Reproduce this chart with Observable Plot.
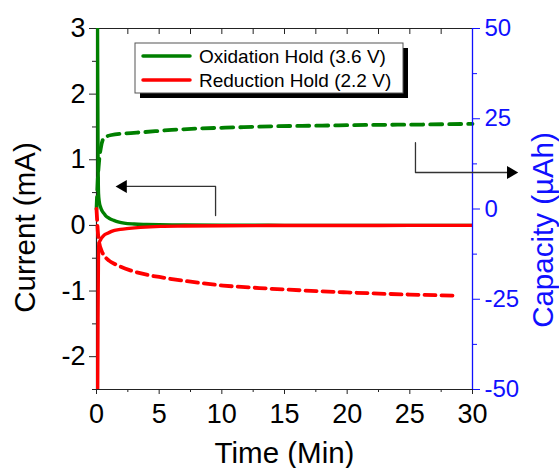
<!DOCTYPE html>
<html>
<head>
<meta charset="utf-8">
<script src="https://cdn.jsdelivr.net/npm/d3@7"></script>
<script src="https://cdn.jsdelivr.net/npm/@observablehq/plot@0.6"></script>
<style>
  html, body { margin: 0; padding: 0; background: #fff; }
  #chart { width: 559px; height: 468px; }
</style>
</head>
<body>
<div id="chart"></div>
<script>
// ---------- data ----------
const seriesNames = ["Oxidation Hold (3.6 V)", "Reduction Hold (2.2 V)"];

// Oxidation hold current (mA) vs time (min)
const oxTime    = [0.03, 0.06, 0.09, 0.12, 0.16, 0.22, 0.32, 0.45, 0.6, 0.72, 1.0, 1.38, 1.8, 2.2, 3, 4, 5, 7, 10, 15, 20, 25, 30];
const oxCurrent = [8, 4.5, 2.6, 1.2, 0.49, 0.36, 0.28, 0.22, 0.18, 0.15, 0.11, 0.076, 0.05, 0.035, 0.022, 0.015, 0.01, 0.006, 0.003, 0.001, 0, 0, 0];

// Reduction hold current (mA) vs time (min)
const redTime    = [0.03, 0.06, 0.09, 0.12, 0.15, 0.18, 0.22, 0.32, 0.45, 0.6, 0.88, 1.2, 1.9, 2.6, 3.5, 5.1, 7, 10, 15, 20, 25, 30];
const redCurrent = [-7, -4, -2.6, -1.4, -0.6, -0.3, -0.26, -0.22, -0.18, -0.15, -0.12, -0.09, -0.06, -0.045, -0.03, -0.015, -0.01, -0.005, -0.002, -0.001, 0, 0];

// Oxidation hold capacity (µAh) vs time (min)
const oxCapTime = [0, 0.05, 0.1, 0.2, 0.35, 0.55, 0.8, 1.2, 2.2, 3.8, 6, 8.3, 11, 14, 18, 22, 26, 30];
const oxCap     = [0, 4, 8, 13, 17, 19.5, 20.1, 20.5, 20.9, 21.3, 21.9, 22.3, 22.6, 22.9, 23.1, 23.3, 23.4, 23.6];

// Reduction hold capacity (µAh) vs time (min)
const redCapTime = [0, 0.05, 0.1, 0.2, 0.4, 0.7, 1.0, 1.5, 2.7, 4, 5.3, 7.2, 10.1, 13, 15, 18, 20, 23, 25, 28.7];
const redCap     = [0, -3, -6, -9, -11.5, -13.3, -14.3, -15.3, -17, -18.2, -19, -20, -21.2, -21.9, -22.3, -22.8, -23.1, -23.5, -23.7, -24];

// axes
const timeDomain = [0, 30];
const currentDomain = [-2.5, 3];
const capacityDomain = [-50, 50];
const timeTicks = [0, 5, 10, 15, 20, 25, 30];
const timeMinor = [2.5, 7.5, 12.5, 17.5, 22.5, 27.5];
const currentTicks = [-2, -1, 0, 1, 2, 3];
const currentMinor = [-2.5, -1.5, -0.5, 0.5, 1.5, 2.5];
const capacityTicks = [-50, -25, 0, 25, 50];
const capacityMinor = [-37.5, -12.5, 12.5, 37.5];

// annotation arrows (time, current)
const arrowLeftPath  = [{t: 9.5, v: 0.15}, {t: 9.5, v: 0.594}, {t: 2.2, v: 0.594}];
const arrowLeftTip   = [{t: 1.52, v: 0.594}];
const arrowRightPath = [{t: 25.45, v: 1.26}, {t: 25.45, v: 0.806}, {t: 33.0, v: 0.806}];
const arrowRightTip  = [{t: 33.65, v: 0.806}];

// ---------- styling ----------
const FONT = "'Liberation Sans', Arial, Helvetica, sans-serif";
const GREEN = "#008000";
const RED = "#ff0000";
const BLUE = "#1010ff";
const AXIS = "#222";

// capacity -> current-axis mapping for the secondary axis
const capToCur = d3.scaleLinear().domain(capacityDomain).range(currentDomain);

const table = (ts, vs) => ts.map((t, i) => ({t, v: vs[i]}));
const oxCurData = table(oxTime, oxCurrent);
const redCurData = table(redTime, redCurrent);
const oxCapData = table(oxCapTime, oxCap);
const redCapData = table(redCapTime, redCap);

function legendMark(index, scales, values, dims) {
  const g = d3.create("svg:g").attr("font-family", FONT).attr("text-anchor", "start");
  const x0 = dims.marginLeft + 39, y0 = dims.marginTop + 15, w = 268, h = 50;
  g.append("rect").attr("x", x0 + 5).attr("y", y0 + 5).attr("width", w).attr("height", h).attr("fill", "#000");
  g.append("rect").attr("x", x0).attr("y", y0).attr("width", w).attr("height", h)
    .attr("fill", "#fff").attr("stroke", "#555").attr("stroke-width", 1);
  const colors = [GREEN, RED];
  seriesNames.forEach((name, i) => {
    const yy = y0 + 13 + i * 24;
    g.append("line").attr("x1", x0 + 8).attr("x2", x0 + 55).attr("y1", yy).attr("y2", yy)
      .attr("stroke", colors[i]).attr("stroke-width", 3.5).attr("stroke-linecap", "round");
    g.append("text").attr("x", x0 + 64).attr("y", yy).attr("dy", "0.35em")
      .attr("text-anchor", "start").attr("font-size", 19).attr("fill", "#000").text(name);
  });
  return g.node();
}

const chart = Plot.plot({
  width: 559,
  height: 468,
  marginLeft: 96,
  marginRight: 87,
  marginTop: 28,
  marginBottom: 79,
  style: {fontFamily: FONT, background: "#fff", color: "#000", overflow: "visible"},
  x: {domain: timeDomain},
  y: {domain: currentDomain},
  marks: [
    // frame
    Plot.ruleY([currentDomain[1]], {stroke: AXIS, strokeWidth: 1.2}),
    Plot.ruleY([currentDomain[0]], {stroke: AXIS, strokeWidth: 1.2}),
    Plot.ruleX([timeDomain[0]], {stroke: AXIS, strokeWidth: 1.2}),
    // axes
    Plot.axisX({ticks: timeTicks, tickSize: 5, tickPadding: 9, fontSize: 27, label: null, stroke: AXIS, tickFormat: d => String(d)}),
    Plot.axisX({ticks: timeMinor, tickSize: 3, label: null, stroke: AXIS, tickFormat: () => ""}),
    Plot.axisX({anchor: "top", ticks: timeTicks.concat(timeMinor), tickSize: 5, dy: 5, label: null, stroke: AXIS, tickFormat: () => ""}),
    Plot.axisY({ticks: currentTicks, tickSize: 7, tickPadding: 4, fontSize: 27, label: null, stroke: AXIS, tickFormat: d => String(d)}),
    Plot.axisY({ticks: currentMinor, tickSize: 4, label: null, stroke: AXIS, tickFormat: () => ""}),
    Plot.axisY({anchor: "right", ticks: capacityTicks.map(c => capToCur(c)), tickSize: 7, tickPadding: 5, fontSize: 24, label: null,
      stroke: BLUE, fill: BLUE, tickFormat: v => String(Math.round(capToCur.invert(v)))}),
    Plot.axisY({anchor: "right", ticks: capacityMinor.map(c => capToCur(c)), tickSize: 4, label: null, stroke: BLUE, tickFormat: () => ""}),
    // capacity curves (dashed)
    Plot.line(oxCapData, {x: "t", y: d => capToCur(d.v), stroke: GREEN, strokeWidth: 3.8, strokeDasharray: "12,7", curve: "monotone-x"}),
    Plot.line(redCapData, {x: "t", y: d => capToCur(d.v), stroke: RED, strokeWidth: 3.8, strokeDasharray: "11,6", curve: "monotone-x"}),
    // current curves
    Plot.line(oxCurData, {x: "t", y: "v", stroke: GREEN, strokeWidth: 3.4, curve: "monotone-x", clip: true}),
    Plot.line(redCurData, {x: "t", y: "v", stroke: RED, strokeWidth: 3.4, curve: "monotone-x", clip: true}),
    // right axis line
    Plot.ruleX([timeDomain[1]], {stroke: BLUE, strokeWidth: 1.3}),
    // annotation arrows
    Plot.line(arrowLeftPath, {x: "t", y: "v", stroke: "#333", strokeWidth: 1.3}),
    Plot.dot(arrowLeftTip, {x: "t", y: "v", symbol: "triangle", r: 4.8, rotate: -90, fill: "#000", stroke: null, dx: 7.5}),
    Plot.line(arrowRightPath, {x: "t", y: "v", stroke: "#333", strokeWidth: 1.3}),
    Plot.dot(arrowRightTip, {x: "t", y: "v", symbol: "triangle", r: 4.8, rotate: 90, fill: "#000", stroke: null, dx: -7.5}),
    // axis titles
    Plot.text(["Current (mA)"], {text: d => d, frameAnchor: "left", textAnchor: "middle", lineAnchor: "middle", rotate: -90, dx: -70.5, dy: 18.5, fontSize: 29.5, fill: "#000"}),
    Plot.text(["Capacity (µAh)"], {text: d => d, frameAnchor: "right", textAnchor: "middle", lineAnchor: "middle", rotate: -90, dx: 71.5, dy: 21, fontSize: 29.5, fill: BLUE}),
    Plot.text(["Time (Min)"], {text: d => d, frameAnchor: "bottom", textAnchor: "middle", lineAnchor: "middle", dy: 64, fontSize: 29.5, fill: "#000"}),
    // legend
    legendMark
  ]
});

document.getElementById("chart").appendChild(chart);
</script>
</body>
</html>
